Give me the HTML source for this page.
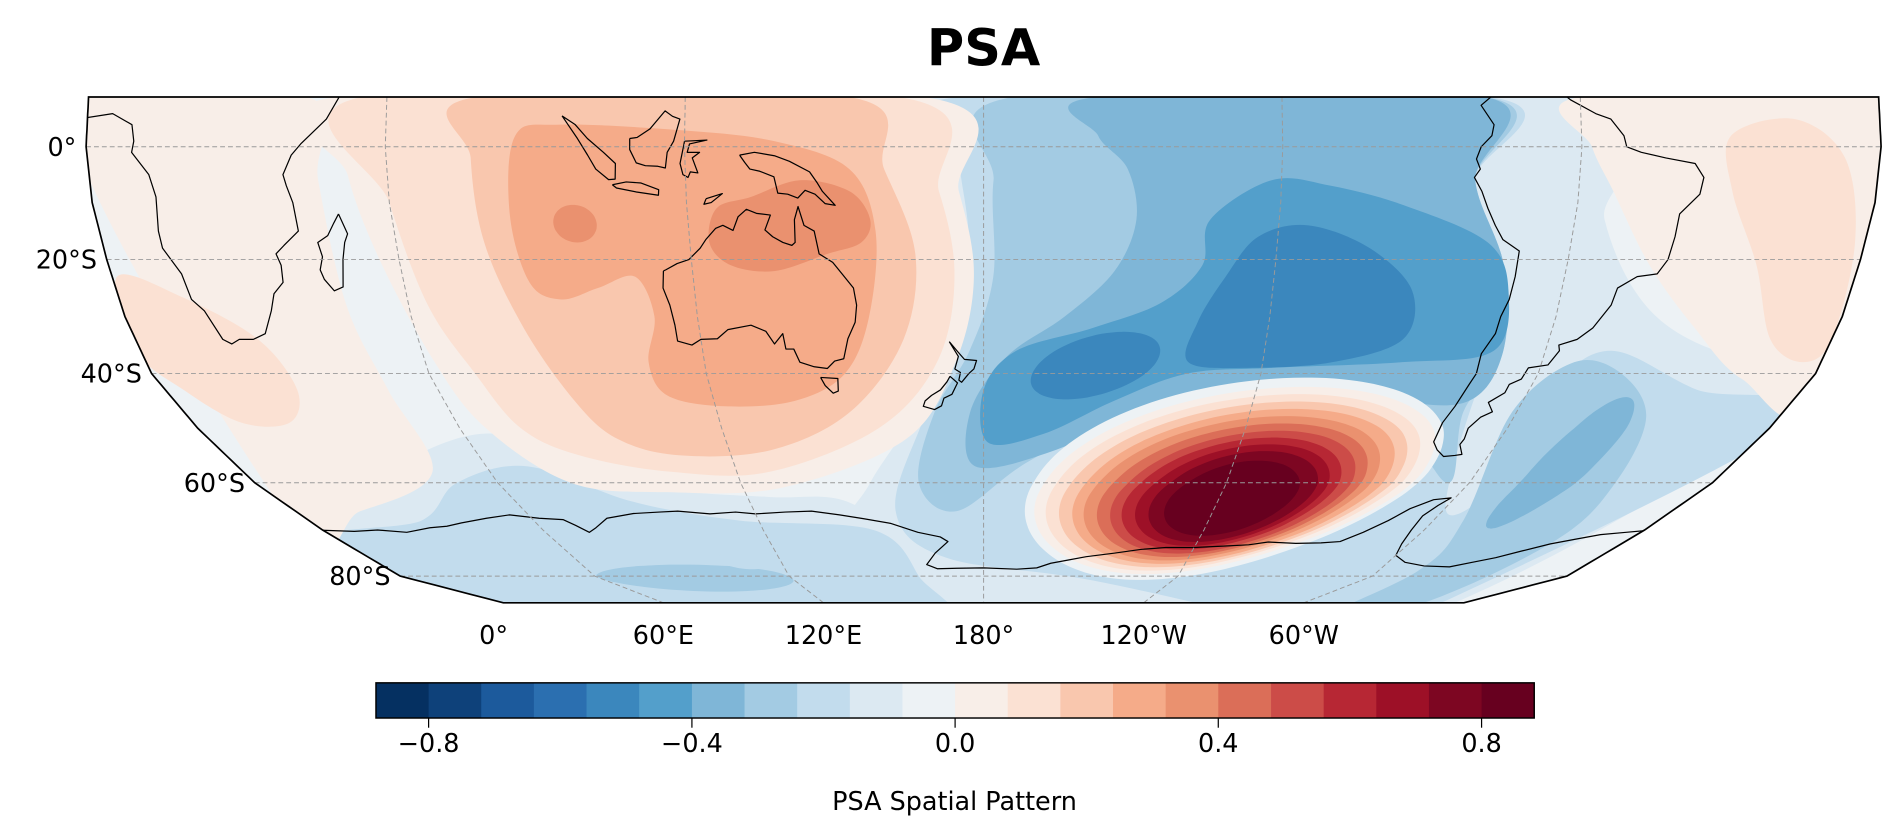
<!DOCTYPE html>
<html><head><meta charset="utf-8"><title>PSA</title>
<style>
html,body{margin:0;padding:0;background:#fff;}
svg{display:block;}
text{font-family:"DejaVu Sans","Liberation Sans",sans-serif;}
</style></head>
<body>
<svg id="fig" width="1892" height="837" viewBox="0 0 1560 690.1" preserveAspectRatio="none" xmlns="http://www.w3.org/2000/svg">
<defs><clipPath id="mapclip"><path id="clipPath"/></clipPath></defs>
<text x="811" y="54" text-anchor="middle" font-size="42" font-weight="bold">PSA</text>
<g id="field" clip-path="url(#mapclip)"></g>
<g id="coasts" clip-path="url(#mapclip)"></g>
<g id="grid" clip-path="url(#mapclip)"></g>
<path id="frame" fill="none" stroke="#000" stroke-width="1.4"/>
<g id="labels"></g>
<g id="cbar"></g>
</svg>
<script>
// ---- colorbar data ----
const cbarMin = -0.88;
const cbarStep = 0.08;
const cbarColors = ["#053061","#0e417a","#1c5a9c","#2b6fb0","#3b87bd","#539fcb","#7fb6d7","#a3cbe3","#c2dced","#dce9f2","#edf2f5","#f8eee8","#fbe1d3","#f9c7ae","#f5ab89","#ea916f","#db6e58","#cc4c48","#b72734","#9d1027","#7d0622","#67001f"];
const cbarTicks = [-0.8,-0.4,0.0,0.4,0.8];
const cbarTickLabels = ["\u22120.8","\u22120.4","0.0","0.4","0.8"];
const cbarLabel = "PSA Spatial Pattern";

// ---- axes data ----
const latTicks = [0,-20,-40,-60,-80];
const latTickLabels = ["0°","20°S","40°S","60°S","80°S"];
const lonTicks = [0,60,120,180,240,300];
const lonTickLabels = ["0°","60°E","120°E","180°","120°W","60°W"];

// ---- field contour regions: [level index, [[lon,lat],...]] ----
const bluePolys = [
 [9,[[165,9],[304,9],[306,-13],[321,-30],[346,-38],[370,-38],[370,-92],[157,-92],[141,-73],[152,-60],[166,-45],[172,-28],[170,-8]]],
 [9,[[-5,-67],[20,-63],[45,-55],[65,-51],[80,-54],[100,-61],[125,-63],[145,-64],[160,-75],[157,-92],[-5,-92]]],
 [8,[[-5,-73],[30,-68],[50,-60],[70,-57],[90,-64],[115,-68],[150,-70],[160,-80],[157,-92],[-5,-92]]],
 [8,[[175,9],[282,9],[279,-6],[287,-21],[291,-36],[289,-45],[301,-66],[307,-60],[305,-43],[314,-36],[337,-43],[365,-49],[370,-92],[340,-92],[215,-81],[169,-76],[157,-66],[166,-49],[175,-34],[177,-17],[175,-2]]],
 [7,[[186,9],[281,9],[279,-6],[287,-21],[291,-36],[288,-47],[295,-60],[276,-51],[244,-43],[217,-45],[191,-56],[173,-66],[164,-60],[169,-47],[177,-36],[182,-23],[182,-6]]],
 [7,[[308,-68],[299,-47],[307,-38],[318,-40],[330,-48],[336,-60],[340,-72],[345,-86],[330,-92],[312,-79]]],
 [6,[[203,9],[281,9],[279,-6],[287,-21],[291,-36],[288,-45],[271,-45],[243,-41.5],[220,-45],[197,-54],[178,-57],[177,-47],[185,-37],[197,-30],[207,-22],[211,-13],[209,-4],[203,2]]],
 [5,[[226,-13],[238,-6],[250,-7],[265,-10.5],[283,-17],[289,-25.5],[289,-36],[270,-38],[242,-39],[224,-40],[209,-45],[194,-51],[181,-52.6],[180,-43],[187,-36],[203,-32],[217,-27.6],[225,-21]]],
 [4,[[230,-23],[236,-16],[246,-14],[259,-18],[269,-25.5],[269,-34],[255,-38],[237,-39],[224,-38],[225,-31]]]
];
// ellipse blobs: level, lon, lat, a(deg), b(deg), rotation(deg)
const blobLevel = [7, 8, 6, 4, 15];
const blobLon   = [90, 110, 320, 204, 97];
const blobLat   = [-80.5, -76.5, -57, -38.7, -13.7];
const blobA     = [30, 8, 13, 14, 4.4];
const blobB     = [3, 2, 7, 5.4, 3.3];
const blobRot   = [0, 0, 75, 12, 0];

const pinkPolys = [
 [11,[[-5,9],[44,9],[46,-6],[47,-28],[49,-43],[46,-58],[17,-66],[-5,-68]]],
 [11,[[50,9],[168,9],[175,-8],[178,-23],[174,-38],[162,-52],[130,-61],[100,-62],[78,-60],[66,-50],[62,-38],[56,-20],[52,-5]]],
 [11,[[300,9],[365,9],[365,-45],[345,-41],[330,-32],[317,-21],[307,-8],[302,0]]],
 [12,[[55,9],[163,9],[171,-8],[174,-23],[170,-38],[156,-50],[128,-58],[104,-58],[84,-55],[74,-50],[70,-40],[64,-28],[60,-10]]],
 [12,[[1,-23],[13,-26.5],[26,-34],[29,-43],[22,-49],[11,-49],[4,-43],[-1,-36]]],
 [12,[[330,2],[343,5],[353,-2],[358,-17],[360,-34],[356,-38],[347,-34],[339,-21],[331,-8]]],
 [13,[[78,9],[153,9],[160,-4],[166,-19],[163,-34],[150,-47],[130,-54],[108,-55],[95,-52],[89,-45],[83,-32],[78,-17],[77,-2]]],
 [14,[[86,2],[95,4],[119,3],[138,1],[153,-4],[158,-15],[156,-30],[150,-40],[138,-45],[122,-46],[110,-44],[108,-38],[111,-30],[108,-23],[100,-25],[92,-27],[86,-24],[84,-12]]],
 [15,[[126,-11],[133,-9],[143,-6],[153,-8],[157,-13],[155,-17],[148,-19],[137,-22],[128,-21],[124,-17]]]
];
// PSA positive centre (nested contours)
const redLevels = [10,11,12,13,14,15,16,17,18,19,20,21];
const redLon = [239.5,240,240,240.5,241,241,241.5,242,242,242.5,243,243];
const redLat = [-60.8,-61,-61.3,-61.6,-61.9,-62.2,-62.5,-62.8,-63,-63.2,-63.4,-63.6];
const redA = [49,47,44,41,38,35,32,29,26,23,20,16];
const redB = [19.5,18,17,16,15,14,13,12,11,10,9,7.5];
const redRot = 6;

// ---- coastlines [lon,lat] ----
const coastlines = {
 africa:[[-2,5],[5,6],[9,4],[9.5,1],[9,-1],[12,-5],[13,-9],[12,-15],[12,-18],[14.5,-22.5],[15,-27],[17,-29],[18.5,-34],[20,-34.8],[22,-34],[25,-34],[28,-33],[31,-29],[32.5,-26],[35,-24],[35.5,-21],[35,-19],[37,-17.5],[40.5,-15],[40.5,-10],[39.5,-7],[39,-5],[41,-1.5],[43,0.5],[48,5],[51,10]],
 madagascar:[[49.3,-12],[50.4,-15.5],[49.5,-17],[48.5,-20],[47.2,-24.8],[45.2,-25.5],[43.7,-23.5],[43.3,-21.8],[44.4,-19.5],[44,-17],[46.3,-15.8],[48,-13.6],[49.3,-12]],
 australia:[[114,-22],[113.5,-25],[114.5,-28],[115,-31.5],[115,-34.3],[117.9,-35],[120,-34],[123.5,-33.9],[126,-32.3],[131,-31.5],[134,-32.6],[135.5,-34.8],[137.5,-33],[137.8,-35.7],[139.5,-35.7],[140.5,-38],[143.5,-38.8],[146.3,-39.1],[148,-37.8],[150,-37.4],[151.2,-33.9],[153,-31],[153.5,-28],[153,-25],[150.8,-22.5],[149,-20.5],[146.3,-19],[145.5,-15],[143.5,-14],[142.5,-10.7],[141.6,-13],[141.5,-17],[140.8,-17.5],[139,-17],[137,-16],[135.5,-14.8],[136.8,-12.2],[134,-11.9],[132,-11.2],[130.2,-12.5],[129,-14.9],[127,-14],[125.5,-14.5],[123.3,-16.5],[122,-18],[119.5,-20],[117,-20.7],[114.5,-21.8],[114,-22]],
 tasmania:[[144.6,-40.7],[148.3,-40.9],[148,-43.2],[146.8,-43.6],[145.3,-42.2],[144.6,-40.7]],
 nzNorth:[[172.7,-34.4],[174.5,-36.2],[175.9,-37.5],[178.5,-37.7],[177.9,-39.2],[176.8,-40],[175.2,-41.6],[174.6,-41.2],[175,-39.8],[173.8,-39.2],[174.6,-37],[172.7,-34.4]],
 nzSouth:[[172.7,-40.5],[174.3,-41.7],[173,-43.8],[171.2,-44.5],[170.6,-45.9],[169,-46.6],[166.5,-46],[167,-45],[168.5,-44],[170.5,-43],[172,-41.5],[172.7,-40.5]],
 newGuinea:[[131,-1.5],[134,-1],[138,-1.6],[141,-2.6],[145,-4.5],[146.5,-6.5],[147.5,-8],[150,-10.5],[148,-10.2],[146,-8.5],[144,-7.8],[142.5,-9.2],[140.5,-8.5],[138.5,-8.3],[137.8,-5.4],[135,-4.4],[133,-4],[132,-2.8],[131,-1.5]],
 sumatra:[[95.3,5.6],[98,4],[100.5,1.5],[103.7,-1],[106,-3],[105.8,-5.8],[104.5,-5.9],[102,-4],[100.5,-1.5],[98.5,1.5],[95.3,5.6]],
 java:[[105.2,-6.8],[108,-6.3],[111,-6.5],[114.5,-7.7],[114.4,-8.7],[110,-8.1],[106,-7.4],[105.2,-6.8]],
 borneo:[[109,1.5],[110.5,1.7],[113,3.2],[116,6.5],[117.5,5.5],[119,5],[117.8,1],[116.5,-1],[116,-3.8],[114.5,-3.5],[112,-3.4],[110.2,-2.9],[109,-0.5],[109,1.5]],
 sulawesi:[[120,1],[124.5,1.2],[121,0.5],[120.5,-1],[123,-1],[121.5,-2],[122.5,-4.7],[121,-4.5],[120.5,-5.5],[119.5,-5],[119,-3],[119.8,0],[120,1]],
 timor:[[124,-9.3],[127.3,-8.4],[125,-10],[123.5,-10.3],[124,-9.3]],
 southAmerica:[[282,9],[280,7.5],[282.5,4],[282,2],[279.8,0],[279,-2.2],[279.9,-4],[278.8,-5.5],[280.5,-8],[282,-11],[284,-14],[286,-16.5],[289.7,-18.5],[289.8,-23],[289.5,-27],[288.4,-30],[288.3,-33],[286.5,-36.5],[286.6,-40],[286.2,-42],[285.5,-46],[284.5,-49],[285,-52.5],[287,-54],[289.5,-55.2],[292,-55],[293.5,-54.8],[291.5,-53],[291.7,-52],[291,-50],[292.5,-48],[294.5,-47],[292.5,-45.3],[295,-43.5],[295,-42],[297,-41],[297.5,-39],[301.5,-38.5],[303,-36],[302.5,-35],[306,-34],[308.5,-32],[311,-28],[311.5,-25],[315,-23],[319,-22.5],[320.5,-20],[321,-16],[321,-12],[324.5,-8.5],[325,-5.5],[323,-3],[317,-2],[312,-1],[309,0],[308.5,2],[306,5],[303,6],[298,8.5],[296,10]],
 antarctica:[[-2,-70],[8,-70.3],[15,-70],[22,-70.5],[30,-69.5],[35,-69.2],[40,-68.5],[48,-67.5],[55,-66.8],[62,-67.5],[68,-67.8],[70,-69],[72,-70.5],[75,-69.5],[80,-67.5],[88,-66.5],[95,-66.2],[100,-66],[108,-66.6],[115,-66.2],[120,-66.6],[128,-66.2],[135,-66],[142,-66.8],[148,-67.6],[155,-68.6],[162,-70.5],[168,-71.5],[170,-72.5],[166,-75],[163,-77.5],[166,-78.4],[172,-78.3],[180,-78.2],[190,-78.5],[196,-78.2],[200,-77.2],[205,-76.5],[210,-75.8],[218,-75],[225,-74.2],[232,-73.8],[240,-73.8],[248,-73.5],[255,-73.2],[260,-72.6],[268,-72.9],[275,-72.8],[280,-72.5],[284,-70.5],[288,-68],[291,-65.5],[295,-63.6],[299,-63.2],[297.5,-64.8],[296,-67],[296.5,-70],[298,-73],[300,-75.5],[305,-77],[312,-77.8],[320,-78],[325,-77],[330,-76],[335,-74.5],[340,-73],[345,-72],[350,-71],[356,-70.5],[362,-70]]
};

// ---- projection ----
const LATS=[9,0,-10,-20,-30,-40,-50,-60,-70,-80,-86];
const YS=[80,121,167,214,261,308,353,398,437,475,497];
const HWS=[738,740,735,723,708,686,648,601,545,481,396];
const CX=811;
function seg(lat){let i=0;while(i<LATS.length-2&&lat<LATS[i+1])i++;return i;}
function lerp(tab,lat){const i=seg(lat);const t=(lat-LATS[i])/(LATS[i+1]-LATS[i]);return tab[i]+t*(tab[i+1]-tab[i]);}
function proj(lon,lat){return [CX+(lon-180)/180*lerp(HWS,lat), lerp(YS,lat)];}

const NS="http://www.w3.org/2000/svg";
function mk(tag,attrs,parent){const e=document.createElementNS(NS,tag);for(const k in attrs)e.setAttribute(k,attrs[k]);parent.appendChild(e);return e;}
function f(v){return v.toFixed(1);}
function smoothPath(ll){
  const p=ll.map(q=>proj(q[0],q[1]));const n=p.length;
  let d=`M${f(p[0][0])},${f(p[0][1])}`;
  for(let i=0;i<n;i++){
    const p0=p[(i-1+n)%n],p1=p[i],p2=p[(i+1)%n],p3=p[(i+2)%n];
    const c1=[p1[0]+(p2[0]-p0[0])/6,p1[1]+(p2[1]-p0[1])/6];
    const c2=[p2[0]-(p3[0]-p1[0])/6,p2[1]-(p3[1]-p1[1])/6];
    d+=`C${f(c1[0])},${f(c1[1])} ${f(c2[0])},${f(c2[1])} ${f(p2[0])},${f(p2[1])}`;
  }
  return d+"Z";
}
function linePath(ll){return ll.map((q,i)=>{const p=proj(q[0],q[1]);return (i?"L":"M")+f(p[0])+","+f(p[1]);}).join("");}
function ellipseLL(lon,lat,a,b,rot){
  const r=rot*Math.PI/180,pts=[];
  for(let k=0;k<40;k++){const t=k/40*2*Math.PI;
    pts.push([lon+a*Math.cos(t)*Math.cos(r)-b*Math.sin(t)*Math.sin(r), lat+a*Math.cos(t)*Math.sin(r)+b*Math.sin(t)*Math.cos(r)]);}
  return pts;
}

// boundary
let bl=[];
for(let la=9;la>=-86;la-=1)bl.push([0,la]);
for(let la=-86;la<=9;la+=1)bl.push([360,la]);
const bd=linePath(bl)+"Z";
document.getElementById("clipPath").setAttribute("d",bd);
document.getElementById("frame").setAttribute("d",bd);

const field=document.getElementById("field");
const base=mk("path",{d:bd,fill:cbarColors[10]},field);



bluePolys.forEach(([lv,pts])=>{
  const e=mk("path",{d:smoothPath(pts),fill:cbarColors[lv]},field);
  
  
});
blobLevel.forEach((lv,i)=>{
  if(lv>=11) return;
  const e=mk("path",{d:smoothPath(ellipseLL(blobLon[i],blobLat[i],blobA[i],blobB[i],blobRot[i])),fill:cbarColors[lv]},field);
  
  
});
pinkPolys.forEach(([lv,pts])=>{
  const e=mk("path",{d:smoothPath(pts),fill:cbarColors[lv]},field);
  
  
});
blobLevel.forEach((lv,i)=>{
  if(lv<11) return;
  const e=mk("path",{d:smoothPath(ellipseLL(blobLon[i],blobLat[i],blobA[i],blobB[i],blobRot[i])),fill:cbarColors[lv]},field);
  
  
});
redLevels.forEach((lv,i)=>{
  const e=mk("path",{d:smoothPath(ellipseLL(redLon[i],redLat[i],redA[i],redB[i],redRot)),fill:cbarColors[lv]},field);
  
  
});

// coastlines
const coasts=document.getElementById("coasts");
for(const k in coastlines){
  const e=mk("path",{d:linePath(coastlines[k]),fill:"none",stroke:"#000","stroke-width":"1.0","stroke-linejoin":"round"},coasts);
  
  
}

// gridlines
const grid=document.getElementById("grid");
latTicks.forEach(la=>{
  const pts=[];for(let lo=0;lo<=360;lo+=10)pts.push([lo,la]);
  const e=mk("path",{d:linePath(pts),fill:"none",stroke:"#9a9a9a","stroke-width":"0.8","stroke-dasharray":"4,2.5"},grid);
  
  
});
lonTicks.forEach(lo=>{
  if(lo===0) return;
  const pts=[];for(let la=9;la>=-86;la-=1)pts.push([lo,la]);
  const e=mk("path",{d:linePath(pts),fill:"none",stroke:"#9a9a9a","stroke-width":"0.8","stroke-dasharray":"4,2.5"},grid);
  
  
});

// labels
const labels=document.getElementById("labels");
latTicks.forEach((la,i)=>{
  const p=proj(0,la);
  const t=mk("text",{x:f(p[0]-8),y:f(p[1]+7.5),"text-anchor":"end","font-size":"21"},labels);
  t.textContent=latTickLabels[i];
  
  
});
lonTicks.forEach((lo,i)=>{
  const p=proj(lo,-86);
  const t=mk("text",{x:f(p[0]-(lo===0?8:0)),y:"531","text-anchor":"middle","font-size":"21"},labels);
  t.textContent=lonTickLabels[i];
  
  
});

// colorbar
const cb=document.getElementById("cbar");
const CB_X0=310,CB_X1=1265,CB_Y=563,CB_H=29;
const cbMax=cbarMin+cbarStep*cbarColors.length;
function cbx(v){return CB_X0+(v-cbarMin)/(cbMax-cbarMin)*(CB_X1-CB_X0);}
cbarColors.forEach((c,i)=>{
  const x0=cbx(cbarMin+i*cbarStep),x1=cbx(cbarMin+(i+1)*cbarStep);
  const r=mk("rect",{x:f(x0),y:CB_Y,width:f(x1-x0+0.4),height:CB_H,fill:c},cb);
  
  
});
const cbo=mk("rect",{x:CB_X0,y:CB_Y,width:CB_X1-CB_X0,height:CB_H,fill:"none",stroke:"#000","stroke-width":"1.2"},cb);


cbarTicks.forEach((v,i)=>{
  const x=cbx(v);
  const l=mk("line",{x1:f(x),x2:f(x),y1:CB_Y+CB_H,y2:CB_Y+CB_H+8,stroke:"#000","stroke-width":"1"},cb);
  
  
  const t=mk("text",{x:f(x),y:"620","text-anchor":"middle","font-size":"21"},cb);
  t.textContent=cbarTickLabels[i];
  
  
});
const cl=mk("text",{x:"787",y:"668","text-anchor":"middle","font-size":"21"},cb);
cl.textContent=cbarLabel;


</script>
</body></html>
